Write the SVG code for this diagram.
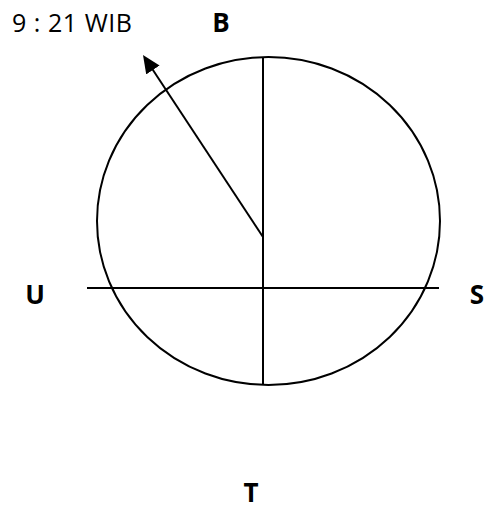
<svg xmlns="http://www.w3.org/2000/svg" width="486" height="510" viewBox="0 0 486 510">
<style>
.ln{stroke:#000;stroke-width:2;fill:none}
.t{font-family:"Open Sans","Liberation Sans",sans-serif;font-size:25px;fill:#000}
.b{font-weight:bold;text-anchor:middle;font-size:26px}
</style>
<defs>
<marker id="ah" markerWidth="9" markerHeight="8" refX="7" refY="4" orient="auto" markerUnits="strokeWidth">
<path d="M0,0 L9,4 L0,8 z" fill="#000"/>
</marker>
</defs>
<rect width="486" height="510" fill="#fff"/>
<g id="circle"><ellipse class="ln" cx="268.5" cy="221" rx="171.5" ry="164"/></g>
<g id="connectors">
<line class="ln" x1="263" y1="57" x2="263" y2="385"/>
<line class="ln" x1="87" y1="288" x2="439" y2="288"/>
<line class="ln" x1="263" y1="237" x2="145.2" y2="58.3" marker-end="url(#ah)"/>
</g>
<g id="time"><text class="t" x="12" y="32" textLength="120">9 : 21 WIB</text></g>
<g id="B"><text class="t b" x="221" y="32">B</text></g>
<g id="U"><text class="t b" x="35" y="304">U</text></g>
<g id="S"><text class="t b" x="477" y="304">S</text></g>
<g id="T"><text class="t b" x="251" y="502">T</text></g>
</svg>
